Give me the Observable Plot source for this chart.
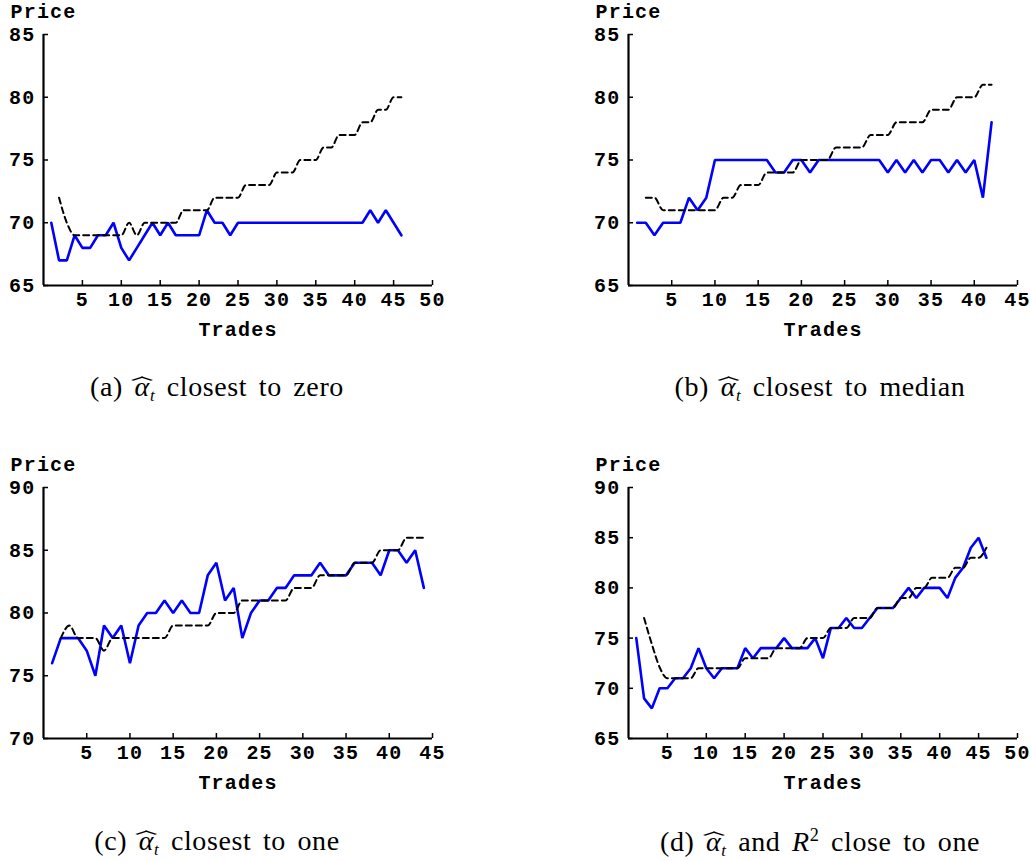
<!DOCTYPE html>
<html>
<head>
<meta charset="utf-8">
<script src="https://cdn.jsdelivr.net/npm/d3@7"></script>
<script src="https://cdn.jsdelivr.net/npm/@observablehq/plot@0.6"></script>
<style>
  html, body { margin: 0; padding: 0; background: #fff; }
  #page { position: relative; width: 1030px; height: 861px; background: #fff; overflow: hidden; }
  .panel { position: absolute; }
  .cap { position: absolute; transform: translate(-50%, -50%); white-space: nowrap; line-height: 1;
         font-family: "Liberation Serif", "DejaVu Serif", serif; font-size: 28px; color: #000;
         letter-spacing: 0.6px; word-spacing: 4px; }
  .cap i { font-style: italic; }
  .ah { position: relative; display: inline-block; }
  .ah::after { content: ""; position: absolute; left: 50%; top: 0.06em; width: 0.34em; height: 0.34em;
               border-left: 2px solid #000; border-top: 2px solid #000; box-sizing: border-box;
               transform: translateX(-50%) scale(1.55, 0.5) rotate(45deg); }
  .cap sub { font-size: 0.6em; vertical-align: -0.3em; font-style: italic; }
  .cap sup { font-size: 0.65em; vertical-align: 0.55em; }
</style>
</head>
<body>
<div id="page"></div>
<script>
// ---- data ----
// (a) alpha_t closest to zero
const aXTicks = [5, 10, 15, 20, 25, 30, 35, 40, 45, 50];
const aYTicks = [65, 70, 75, 80, 85];
const aActual = [70,67,67,69,68,68,69,69,70,68, 67,68,69,70,69,70,69,69,69,69,
                 71,70,70,69,70,70,70,70,70,70, 70,70,70,70,70,70,70,70,70,70,
                 70,71,70,71,70,69];
const aModel  = [72,70,69,69,69,69,69,69,69,70, 69,70,70,70,70,70,71,71,71,71,
                 72,72,72,72,73,73,73,73,74,74, 74,75,75,75,76,76,77,77,77,78,
                 78,79,79,80,80];

// (b) alpha_t closest to median
const bXTicks = [5, 10, 15, 20, 25, 30, 35, 40, 45];
const bYTicks = [65, 70, 75, 80, 85];
const bActual = [70,70,69,70,70,70,72,71,72,75, 75,75,75,75,75,75,74,74,75,75,
                 74,75,75,75,75,75,75,75,75,74, 75,74,75,74,75,75,74,75,74,75,
                 72,78];
const bModel  = [72,72,71,71,71,71,71,71,71,72, 72,73,73,73,74,74,74,74,75,75,
                 75,75,76,76,76,76,77,77,77,78, 78,78,78,79,79,79,80,80,80,81,
                 81];

// (c) alpha_t closest to one
const cXTicks = [5, 10, 15, 20, 25, 30, 35, 40, 45];
const cYTicks = [70, 75, 80, 85, 90];
const cActual = [76,78,78,78,77,75,79,78,79,76, 79,80,80,81,80,81,80,80,83,84,
                 81,82,78,80,81,81,82,82,83,83, 83,84,83,83,83,84,84,84,83,85,
                 85,84,85,82];
const cModel  = [78,79,78,78,78,77,78,78,78,78, 78,78,78,79,79,79,79,79,80,80,
                 80,81,81,81,81,81,81,82,82,82, 83,83,83,83,84,84,84,85,85,85,
                 86,86,86];

// (d) alpha_t and R^2 close to one
const dXTicks = [5, 10, 15, 20, 25, 30, 35, 40, 45, 50];
const dYTicks = [65, 70, 75, 80, 85, 90];
const dActual = [75,69,68,70,70,71,71,72,74,72, 71,72,72,72,74,73,74,74,74,75,
                 74,74,74,75,73,76,76,77,76,76, 77,78,78,78,79,80,79,80,80,80,
                 79,81,82,84,85,83];
const dModel  = [77,74.4,72.1,71,71,71,71,72,72,72, 72,72,72,73,73,73,73,74,74,74,
                 74,75,75,75,76,76,76,77,77,77, 78,78,78,79,79,80,80,81,81,81,
                 82,82,83,83,84];

const alphaHat = '<span class="ah"><i>α</i></span><sub>t</sub>';
const captions = [
  '(a) ' + alphaHat + ' closest to zero',
  '(b) ' + alphaHat + ' closest to median',
  '(c) ' + alphaHat + ' closest to one',
  '(d) ' + alphaHat + ' and <i>R</i><sup>2</sup> close to one'
];

// ---- drawing ----
const W = 445, H = 340, ML = 43, MR = 13, MT = 34, MB = 55;
const PW = W - ML - MR, PH = H - MT - MB;
const MONO = "'Liberation Mono', 'DejaVu Sans Mono', monospace";

function panel(xTicks, yTicks, actual, model) {
  const xMax = xTicks[xTicks.length - 1];
  const yMin = yTicks[0], yMax = yTicks[yTicks.length - 1];
  const act = actual.map((p, i) => ({t: i + 1, p}));
  const mod = model.map((p, i) => ({t: i + 2, p}));
  return Plot.plot({
    width: W, height: H,
    marginLeft: ML, marginRight: MR, marginTop: MT, marginBottom: MB,
    x: {domain: [0, xMax]},
    y: {domain: [yMin, yMax]},
    style: {fontFamily: MONO, fontWeight: "bold", fontSize: "20px", color: "#000",
            letterSpacing: "1.2px", background: "transparent", overflow: "visible"},
    marks: [
      Plot.axisX({ticks: xTicks, tickSize: 0, tickPadding: 6, label: null,
                  fontWeight: "bold", fontSize: 20}),
      Plot.axisY({ticks: yTicks, tickSize: 0, tickPadding: 8, label: null,
                  fontWeight: "bold", fontSize: 20}),
      Plot.tickX(xTicks, {x: d => d, stroke: "#000", strokeWidth: 1.5, insetTop: PH - 5}),
      Plot.tickY(yTicks, {y: d => d, stroke: "#000", strokeWidth: 1.5, insetRight: PW - 5}),
      Plot.ruleX([0], {stroke: "#000", strokeWidth: 2.2}),
      Plot.ruleY([yMin], {stroke: "#000", strokeWidth: 2.2}),
      Plot.line(act, {x: "t", y: "p", stroke: "#0000ff", strokeWidth: 2.6,
                      strokeLinejoin: "miter"}),
      Plot.line(mod, {x: "t", y: "p", stroke: "#000", strokeWidth: 2,
                      strokeDasharray: "6,4", curve: "monotone-x"}),
      Plot.text(["Price"], {frameAnchor: "top-left", dx: -33, dy: -23, textAnchor: "start",
                            lineAnchor: "middle", fontSize: 20, fontWeight: "bold", fill: "#000"}),
      Plot.text(["Trades"], {frameAnchor: "bottom", dy: 44, lineAnchor: "middle",
                             fontSize: 20, fontWeight: "bold", fill: "#000"})
    ]
  });
}

const page = document.getElementById("page");
const specs = [
  {left: 0,   top: 0,   xt: aXTicks, yt: aYTicks, a: aActual, m: aModel, cx: 217, cy: 389},
  {left: 585, top: 0,   xt: bXTicks, yt: bYTicks, a: bActual, m: bModel, cx: 820, cy: 389},
  {left: 0,   top: 453, xt: cXTicks, yt: cYTicks, a: cActual, m: cModel, cx: 217, cy: 843},
  {left: 585, top: 453, xt: dXTicks, yt: dYTicks, a: dActual, m: dModel, cx: 820, cy: 843}
];
specs.forEach((s, i) => {
  const div = document.createElement("div");
  div.className = "panel";
  div.style.left = s.left + "px";
  div.style.top = s.top + "px";
  div.appendChild(panel(s.xt, s.yt, s.a, s.m));
  page.appendChild(div);
  const cap = document.createElement("div");
  cap.className = "cap";
  cap.style.left = s.cx + "px";
  cap.style.top = s.cy + "px";
  cap.innerHTML = captions[i];
  page.appendChild(cap);
});
</script>
</body>
</html>
